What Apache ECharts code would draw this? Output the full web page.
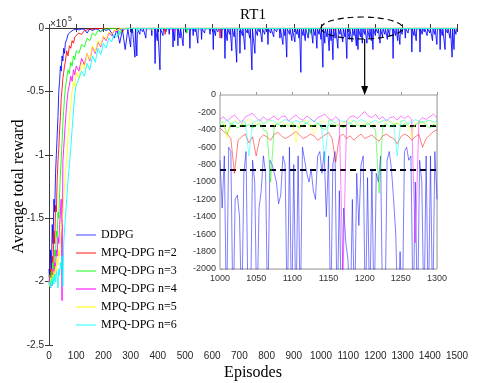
<!DOCTYPE html>
<html>
<head>
<meta charset="utf-8">
<script src="https://cdn.jsdelivr.net/npm/echarts@6/dist/echarts.min.js"></script>
<style>
html,body{margin:0;padding:0;background:#fff;}
#main{width:491px;height:383px;}
</style>
</head>
<body>
<div id="main"></div>
<script>
// series names and colours
var names = ['DDPG', 'MPQ-DPG n=2', 'MPQ-DPG n=3', 'MPQ-DPG n=4', 'MPQ-DPG n=5', 'MPQ-DPG n=6'];
var colors = ['#0000ff', '#ff0000', '#00ff00', '#ff00ff', '#ffff00', '#00ffff'];
var legendColors = ['#a0a0ff', '#ff8a8a', '#8aff8a', '#ff7aff', '#ffff7a', '#8affff'];

// main plot, learning phase (values in x10^5)
var mainEp = [0,3,6,9,12,15,18,21,24,27,30,33,36,39,42,45,48,51,54,57,60,65,70,75,80,85,90,95,100,110,120,130,140,150,160,170,180,190,200,210,220,230,240,250,260,270,280,290,300];
var ddpgMain = [-1.9,-2.02,-1.75,-1.9,-1.55,-1.7,-1.35,-1.45,-1.15,-1.0,-0.85,-0.7,-0.5,-0.42,-0.3,-0.34,-0.22,-0.26,-0.16,-0.2,-0.12,-0.09,-0.05,-0.06,-0.03,-0.04,-0.015,-0.02,-0.008,-0.015,-0.008,-0.01,-0.04,-0.008,-0.02,-0.008,-0.01,-0.03,-0.008,-0.02,-0.008,-0.04,-0.08,-0.008,-0.12,-0.01,-0.17,-0.01,-0.15];
var n2Main = [-1.95,-2.0,-1.9,-1.97,-1.8,-1.85,-1.6,-1.7,-1.4,-1.45,-1.2,-1.05,-0.95,-0.8,-0.7,-0.55,-0.48,-0.4,-0.35,-0.3,-0.27,-0.18,-0.22,-0.14,-0.16,-0.1,-0.12,-0.07,-0.08,-0.04,-0.05,-0.02,-0.015,-0.005,-0.01,-0.003,-0.005,-0.003,-0.003,-0.003,-0.003,-0.003,-0.003,-0.003,-0.003,-0.03,-0.003,-0.003,-0.003];
var n3Main = [-2.0,-1.95,-2.03,-1.92,-1.98,-1.85,-1.9,-1.75,-1.8,-1.6,-1.65,-1.45,-1.5,-1.3,-1.15,-1.03,-0.9,-0.75,-0.65,-0.55,-0.48,-0.4,-0.33,-0.36,-0.27,-0.3,-0.22,-0.25,-0.18,-0.2,-0.13,-0.15,-0.08,-0.1,-0.04,-0.06,-0.02,-0.03,-0.005,-0.01,-0.003,-0.003,-0.003,-0.003,-0.05,-0.003,-0.003,-0.003,-0.003];
var n4Main = [-2.02,-1.96,-2.05,-1.98,-2.03,-1.9,-1.95,-1.85,-1.9,-1.75,-1.8,-1.65,-1.7,-1.55,-1.45,-1.35,-2.15,-1.05,-0.95,-0.85,-0.75,-0.6,-0.5,-0.45,-0.38,-0.42,-0.33,-0.37,-0.3,-0.34,-0.24,-0.29,-0.2,-0.26,-0.15,-0.2,-0.11,-0.15,-0.07,-0.1,-0.04,-0.06,-0.02,-0.03,-0.005,-0.01,-0.003,-0.003,-0.003];
var n5Main = [-2.0,-2.04,-1.97,-2.02,-1.95,-2.0,-1.92,-1.97,-1.88,-1.93,-1.82,-1.87,-1.75,-1.8,-1.68,-1.6,-1.52,-1.45,-1.35,-1.25,-1.15,-1.03,-0.85,-0.72,-0.6,-0.5,-0.42,-0.46,-0.35,-0.4,-0.27,-0.32,-0.2,-0.25,-0.14,-0.19,-0.1,-0.14,-0.06,-0.09,-0.03,-0.05,-0.015,-0.02,-0.005,-0.003,-0.003,-0.003,-0.003];
var n6Main = [-2.03,-2.0,-2.05,-1.98,-2.03,-1.96,-2.02,-1.94,-2.0,-1.92,-1.97,-2.05,-1.9,-1.95,-1.85,-1.9,-1.8,-2.04,-1.7,-1.6,-1.5,-1.35,-1.2,-1.08,-0.95,-0.8,-0.65,-0.52,-0.45,-0.4,-0.34,-0.38,-0.28,-0.33,-0.22,-0.27,-0.16,-0.21,-0.12,-0.16,-0.08,-0.11,-0.05,-0.07,-0.02,-0.005,-0.01,-0.003,-0.003];

// main plot after episode 300: baselines and spikes [episode, value x10^5]
var ddpgBase = -0.006;
var otherBase = -0.003;
var ddpgSpikes = [[305,-0.04],[316,-0.23],[323,-0.22],[334,-0.05],[345,-0.03],[356,-0.08],[368,-0.02],[378,-0.06],[390,-0.28],[398,-0.1],[408,-0.33],[419,-0.06],[430,-0.03],[442,-0.05],[456,-0.15],[462,-0.1],[474,-0.14],[482,-0.08],[493,-0.14],[505,-0.04],[518,-0.16],[530,-0.06],[538,-0.03],[547,-0.12],[561,-0.09],[572,-0.04],[584,-0.02],[592,-0.05],[604,-0.17],[612,-0.06],[621,-0.03],[635,-0.08],[647,-0.24],[655,-0.1],[664,-0.05],[672,-0.18],[681,-0.07],[690,-0.27],[702,-0.2],[711,-0.06],[720,-0.17],[729,-0.04],[738,-0.08],[746,-0.33],[757,-0.2],[766,-0.06],[774,-0.03],[783,-0.11],[793,-0.05],[805,-0.13],[815,-0.04],[826,-0.07],[837,-0.03],[849,-0.08],[860,-0.13],[867,-0.06],[874,-0.23],[884,-0.05],[893,-0.1],[904,-0.11],[912,-0.05],[919,-0.08],[926,-0.35],[934,-0.06],[942,-0.1],[953,-0.08],[962,-0.04],[970,-0.12],[978,-0.06],[985,-0.16],[993,-0.05],[1000,-0.09],[1007,-0.31],[1014,-0.12],[1022,-0.07],[1030,-0.18],[1037,-0.1],[1044,-0.25],[1052,-0.08],[1062,-0.16],[1070,-0.05],[1080,-0.11],[1088,-0.07],[1095,-0.24],[1104,-0.09],[1114,-0.11],[1122,-0.06],[1130,-0.14],[1136,-0.17],[1145,-0.07],[1152,-0.12],[1160,-0.05],[1169,-0.12],[1178,-0.08],[1185,-0.1],[1191,-0.17],[1200,-0.06],[1209,-0.04],[1217,-0.12],[1226,-0.07],[1235,-0.05],[1244,-0.09],[1252,-0.06],[1265,-0.24],[1274,-0.06],[1282,-0.1],[1290,-0.13],[1298,-0.05],[1310,-0.08],[1320,-0.04],[1334,-0.19],[1342,-0.06],[1350,-0.1],[1364,-0.19],[1372,-0.05],[1380,-0.03],[1390,-0.06],[1400,-0.04],[1410,-0.1],[1418,-0.05],[1426,-0.13],[1438,-0.17],[1446,-0.06],[1456,-0.17],[1465,-0.04],[1474,-0.08],[1482,-0.23],[1489,-0.17],[1496,-0.05]];
var n2Spikes = [[427,-0.05],[629,-0.08],[1048,-0.02]];
var n3Spikes = [[507,-0.04],[960,-0.05]];
var n4Spikes = [[460,-0.03],[1172,-0.02]];
var n5Spikes = [[380,-0.02]];
var n6Spikes = [[325,-0.03],[700,-0.02]];

// inset (episodes 1000-1300, raw reward)
var ddpgInsetStart = 1000, ddpgInsetStep = 3;
var ddpgInset = [-750,-1300,-700,-2600,-600,-650,-2600,-1200,-1150,-1400,
  -2600,-900,-650,-2600,-2600,-750,-1000,-2600,-1300,-1100,
  -700,-900,-2600,-750,-800,-900,-1000,-1250,-1150,-700,
  -800,-2600,-600,-2600,-800,-2600,-700,-2600,-600,-750,
  -900,-1000,-850,-1100,-1200,-700,-650,-900,-650,-1400,
  -700,-2600,-800,-650,-2600,-1100,-2600,-1300,-1700,-1900,
  -2600,-1200,-2600,-900,-1500,-800,-700,-2600,-950,-2600,
  -850,-2600,-900,-1000,-700,-2600,-2600,-750,-650,-850,
  -1200,-1600,-2600,-1800,-2600,-650,-600,-750,-700,-2600,
  -1000,-2600,-750,-1000,-2600,-700,-2600,-700,-2600,-650,
  -1200];
var insetStart = 1000, insetStep = 5;
var n2Inset = [-380,-420,-450,-500,-900,-520,-480,-450,-550,-480,
  -700,-500,-460,-480,-520,-450,-430,-470,-500,-480,
  -450,-420,-460,-500,-480,-450,-470,-520,-490,-460,
  -430,-500,-770,-480,-450,-500,-470,-520,-480,-450,
  -500,-480,-460,-500,-530,-470,-450,-480,-500,-560,
  -480,-450,-470,-520,-480,-450,-600,-500,-460,-420,
  -400];
var n3Inset = [-360,-340,-450,-320,-350,-380,-330,-360,-340,-380,
  -350,-330,-400,-420,-1000,-350,-330,-370,-340,-360,
  -330,-350,-380,-340,-320,-360,-350,-330,-370,-400,
  -350,-330,-360,-340,-380,-350,-320,-360,-340,-370,
  -350,-330,-360,-400,-1130,-350,-330,-370,-340,-320,
  -360,-330,-350,-380,-340,-320,-300,-350,-380,-340,
  -360];
var n4Inset = [-280,-250,-300,-260,-230,-280,-320,-250,-230,-210,
  -260,-300,-250,-290,-270,-240,-290,-250,-240,-300,
  -260,-230,-270,-290,-240,-270,-310,-260,-240,-220,
  -270,-290,-250,-290,-2100,-300,-250,-240,-270,-230,
  -190,-240,-260,-220,-280,-250,-300,-260,-250,-290,
  -240,-270,-240,-280,-1700,-300,-260,-280,-250,-220,
  -260];
var n5Inset = [-320,-300,-500,-330,-290,-310,-350,-300,-280,-320,
  -340,-300,-330,-310,-290,-350,-320,-300,-340,-330,
  -310,-550,-320,-300,-290,-330,-450,-340,-300,-320,
  -280,-300,-330,-350,-310,-320,-290,-300,-340,-310,
  -330,-300,-320,-350,-310,-290,-330,-300,-320,-340,
  -310,-300,-330,-500,-320,-300,-340,-310,-290,-320,
  -330];
var n6Inset = [-300,-320,-280,-350,-300,-330,-290,-310,-700,-320,
  -300,-280,-330,-310,-290,-300,-340,-310,-280,-300,
  -320,-290,-310,-300,-330,-280,-300,-320,-340,-770,
  -290,-300,-320,-280,-310,-300,-330,-290,-310,-280,
  -300,-330,-310,-290,-320,-300,-280,-310,-340,-700,
  -300,-290,-330,-310,-280,-300,-320,-300,-290,-310,
  -300];
var refLines = [-350, -860];

function mainData(vals, spikes, base) {
  var d = mainEp.map(function (e, i) { return [e, vals[i]]; });
  spikes.forEach(function (s) {
    d.push([s[0] - 2, base], [s[0], s[1]], [s[0] + 2, base]);
  });
  d.push([1500, base]);
  return d;
}
function insetData(start, step, vals) {
  return vals.map(function (v, i) { return [start + i * step, v]; });
}
function plain(v) { return String(v); }

var mainSets = [
  mainData(ddpgMain, ddpgSpikes, ddpgBase),
  mainData(n2Main, n2Spikes, otherBase),
  mainData(n3Main, n3Spikes, otherBase),
  mainData(n4Main, n4Spikes, otherBase),
  mainData(n5Main, n5Spikes, otherBase),
  mainData(n6Main, n6Spikes, otherBase)
];
var insetSets = [
  insetData(ddpgInsetStart, ddpgInsetStep, ddpgInset),
  insetData(insetStart, insetStep, n2Inset),
  insetData(insetStart, insetStep, n3Inset),
  insetData(insetStart, insetStep, n4Inset),
  insetData(insetStart, insetStep, n5Inset),
  insetData(insetStart, insetStep, n6Inset)
];

var sans = 'Liberation Sans';
var serif = 'Liberation Serif';
var axisCol = '#3a3a3a';
var insetCol = '#9a9a9a';

var series = [];
names.forEach(function (n, i) {
  series.push({
    name: n, type: 'line', xAxisIndex: 0, yAxisIndex: 0,
    data: mainSets[i], showSymbol: false, symbol: 'none',
    lineStyle: { color: colors[i], width: 1, opacity: 0.85 },
    itemStyle: { color: colors[i] }
  });
});
names.forEach(function (n, i) {
  var s = {
    name: n, type: 'line', xAxisIndex: 2, yAxisIndex: 2,
    data: insetSets[i], showSymbol: false, symbol: 'none', z: 5,
    lineStyle: { color: colors[i], width: 1, opacity: 0.5 },
    itemStyle: { color: colors[i] }
  };
  if (i === names.length - 1) {
    s.markLine = {
      silent: true, symbol: 'none', label: { show: false },
      lineStyle: { color: '#000', type: [6, 4], width: 2, opacity: 1 },
      data: refLines.map(function (v) { return { yAxis: v }; })
    };
  }
  series.push(s);
});

var chart = echarts.init(document.getElementById('main'));
chart.setOption({
  animation: false,
  backgroundColor: '#fff',
  grid: [
    { left: 49, top: 28, width: 408, height: 317, outerBoundsMode: 'none', containLabel: false },
    { left: 220, top: 95, width: 217, height: 174, outerBoundsMode: 'none', containLabel: false,
      show: true, backgroundColor: '#fff', borderColor: insetCol, borderWidth: 1, z: 4 }
  ],
  legend: {
    orient: 'vertical', left: 76, top: 228, padding: 0, itemWidth: 20, itemHeight: 2, itemGap: 4,
    icon: 'rect', selectedMode: false,
    textStyle: { fontFamily: serif, fontSize: 12, color: '#000', lineHeight: 14 },
    data: names.map(function (n, i) { return { name: n, itemStyle: { color: legendColors[i] } }; })
  },
  xAxis: [
    { gridIndex: 0, type: 'value', min: 0, max: 1500, interval: 100,
      axisLine: { lineStyle: { color: axisCol } },
      axisTick: { inside: true, length: 4, lineStyle: { color: axisCol } },
      axisLabel: { fontFamily: sans, fontSize: 10, color: '#262626', margin: 6, formatter: plain },
      splitLine: { show: false },
      name: 'Episodes', nameLocation: 'middle', nameGap: 20, nameMoveOverlap: false,
      nameTextStyle: { fontFamily: serif, fontSize: 16, color: '#000' } },
    { gridIndex: 0, type: 'value', position: 'top', min: 0, max: 1500, interval: 100,
      axisLine: { lineStyle: { color: axisCol } },
      axisTick: { inside: true, length: 4, lineStyle: { color: axisCol } },
      axisLabel: { show: false }, splitLine: { show: false } },
    { gridIndex: 1, type: 'value', min: 1000, max: 1300, interval: 50,
      axisLine: { lineStyle: { color: insetCol } },
      axisTick: { inside: true, length: 3, lineStyle: { color: insetCol } },
      axisLabel: { fontFamily: sans, fontSize: 9, color: '#333', margin: 5, formatter: plain },
      splitLine: { show: true, lineStyle: { color: '#ebebeb', width: 1 } } }
  ],
  yAxis: [
    { gridIndex: 0, type: 'value', min: -2.5, max: 0, interval: 0.5,
      axisLine: { show: true, lineStyle: { color: axisCol } },
      axisTick: { show: true, inside: true, length: 4, lineStyle: { color: axisCol } },
      axisLabel: { fontFamily: sans, fontSize: 10, color: '#262626', margin: 5, formatter: plain },
      splitLine: { show: false },
      name: 'Average total reward', nameLocation: 'middle', nameGap: 22, nameMoveOverlap: false,
      nameTextStyle: { fontFamily: serif, fontSize: 16, color: '#000' } },
    { gridIndex: 0, type: 'value', position: 'right', min: -2.5, max: 0, interval: 0.5,
      axisLine: { show: true, lineStyle: { color: axisCol } },
      axisTick: { show: true, inside: true, length: 4, lineStyle: { color: axisCol } },
      axisLabel: { show: false }, splitLine: { show: false } },
    { gridIndex: 1, type: 'value', min: -2000, max: 0, interval: 200,
      axisLine: { show: true, lineStyle: { color: insetCol } },
      axisTick: { show: true, inside: true, length: 3, lineStyle: { color: insetCol } },
      axisLabel: { fontFamily: sans, fontSize: 9, color: '#333', margin: 4, formatter: plain,
        showMinLabel: true, showMaxLabel: true },
      splitLine: { show: true, lineStyle: { color: '#ebebeb', width: 1 } } }
  ],
  series: series
});

// annotations placed from data coordinates
var ellC = chart.convertToPixel({ xAxisIndex: 0, yAxisIndex: 0 }, [1150, 0]);
var ellR = chart.convertToPixel({ xAxisIndex: 0, yAxisIndex: 0 }, [1300, 0])[0] - ellC[0];
var ellRy = 11;
var arrowTop = chart.convertToPixel({ xAxisIndex: 2, yAxisIndex: 2 }, [1200, 0]);
var titleC = chart.convertToPixel({ xAxisIndex: 0, yAxisIndex: 0 }, [750, 0]);
var origin = chart.convertToPixel({ xAxisIndex: 0, yAxisIndex: 0 }, [0, 0]);
var ax = arrowTop[0];

chart.setOption({
  graphic: [
    { type: 'text', x: titleC[0], y: 8, z: 20,
      style: { text: 'RT1', fontFamily: serif, fontSize: 15, fill: '#000', align: 'center' } },
    { type: 'text', x: origin[0] + 1, y: origin[1] - 9, z: 20,
      style: { text: '\u00d710', fontFamily: sans, fontSize: 10, fill: '#262626' } },
    { type: 'text', x: origin[0] + 19, y: origin[1] - 12, z: 20,
      style: { text: '5', fontFamily: sans, fontSize: 7, fill: '#262626' } },
    { type: 'ellipse', z: 20, silent: true,
      shape: { cx: ellC[0], cy: ellC[1], rx: ellR, ry: ellRy },
      style: { fill: 'none', stroke: '#000', lineWidth: 1.2, lineDash: [6, 4] } },
    { type: 'line', z: 20, silent: true,
      shape: { x1: ax, y1: ellC[1] + ellRy, x2: ax, y2: arrowTop[1] - 6 },
      style: { stroke: '#000', lineWidth: 1.2 } },
    { type: 'polygon', z: 20, silent: true,
      shape: { points: [[ax - 3.5, arrowTop[1] - 9], [ax + 3.5, arrowTop[1] - 9], [ax, arrowTop[1]]] },
      style: { fill: '#000' } }
  ]
});
</script>
</body>
</html>
